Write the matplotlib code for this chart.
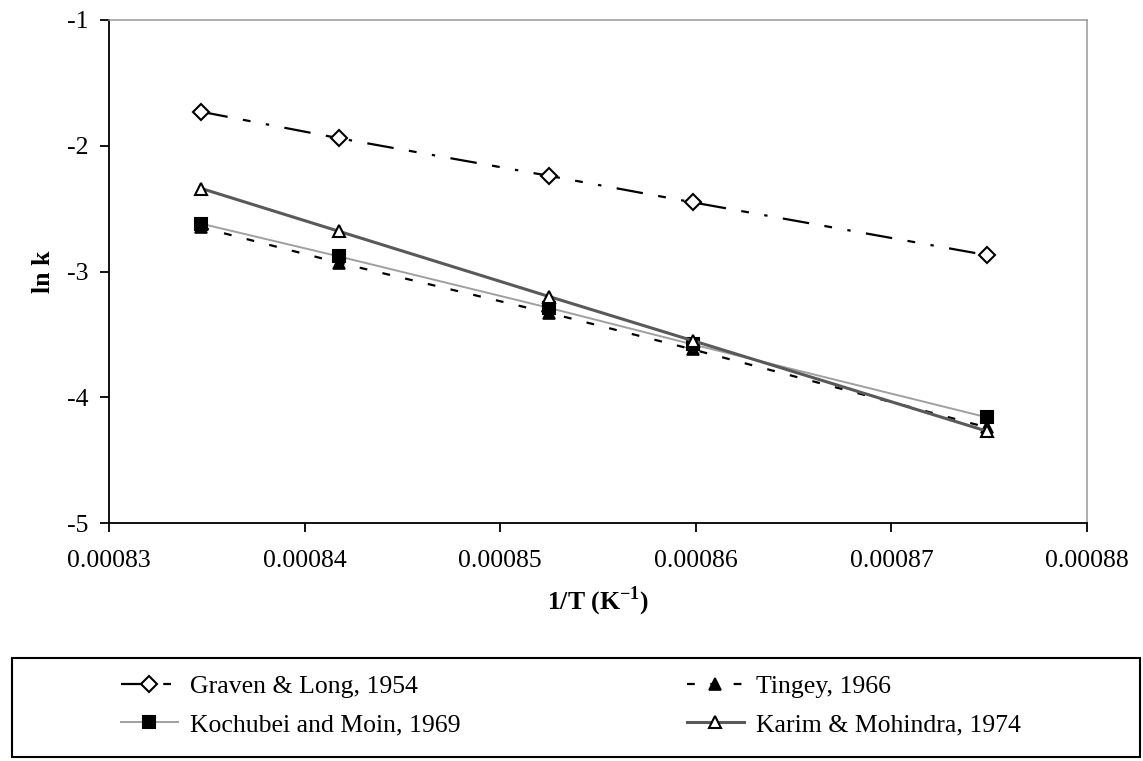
import matplotlib
matplotlib.use("Agg")
import matplotlib.pyplot as plt
from matplotlib.patches import Rectangle

plt.rcParams['font.family'] = ['Liberation Serif', 'DejaVu Serif']
plt.rcParams['axes.unicode_minus'] = False
plt.rcParams['mathtext.fontset'] = 'custom'
plt.rcParams['mathtext.rm'] = 'Liberation Serif'
plt.rcParams['mathtext.bf'] = 'Liberation Serif:bold'

# temperatures (K) -> 1/T on the x axis
temps = [1198, 1188, 1173, 1163, 1143]
inv_t = [1.0 / t for t in temps]

graven = [-1.73, -1.94, -2.24, -2.45, -2.87]
tingey = [-2.65, -2.93, -3.33, -3.62, -4.24]
kochubei = [-2.62, -2.88, -3.29, -3.58, -4.16]
karim = [-2.34, -2.68, -3.20, -3.55, -4.27]

x_ticks = [0.00083, 0.00084, 0.00085, 0.00086, 0.00087, 0.00088]
x_labels = ["0.00083", "0.00084", "0.00085", "0.00086", "0.00087", "0.00088"]
y_ticks = [-5, -4, -3, -2, -1]

fig = plt.figure(figsize=(11.43, 7.61), dpi=100)
ax = fig.add_axes([109 / 1143, 1 - 523 / 761, 978 / 1143, 503 / 761])

fs = 18.5

h1, = ax.plot(inv_t, graven, color='black', lw=1.6, dashes=(12, 7, 3.5, 7, 1.5, 7),
              marker='D', ms=8, mfc='white', mec='black', mew=1.5,
              label="Graven & Long, 1954")
h2, = ax.plot(inv_t, tingey, color='black', lw=1.6, dashes=(3.5, 7),
              marker='^', ms=9, mfc='black', mec='black', mew=1.2,
              label="Tingey, 1966")
h3, = ax.plot(inv_t, kochubei, color='#a0a0a0', lw=1.4,
              marker='s', ms=8, mfc='black', mec='black', mew=1.5,
              label="Kochubei and Moin, 1969")
h4, = ax.plot(inv_t, karim, color='#595959', lw=2.2,
              marker='^', ms=9, mfc='white', mec='black', mew=1.5,
              label="Karim & Mohindra, 1974")

ax.set_xlim(0.00083, 0.00088)
ax.set_ylim(-5, -1)
ax.set_xticks(x_ticks)
ax.set_xticklabels(x_labels)
ax.set_yticks(y_ticks)
ax.tick_params(direction='out', length=6.5, width=1.3, labelsize=fs)
ax.tick_params(axis='x', pad=13)
ax.tick_params(axis='y', pad=8)

for side in ['left', 'bottom']:
    ax.spines[side].set_color('black')
    ax.spines[side].set_linewidth(1.3)
for side in ['top', 'right']:
    ax.spines[side].set_color('#999999')
    ax.spines[side].set_linewidth(1.1)

ax.set_ylabel("ln k", fontsize=fs, fontweight='bold', labelpad=9)
ax.set_xlabel("1/T (K$^{\\mathbf{-1}}$)", fontsize=fs, fontweight='bold', labelpad=9)

# legend box below the plot
fig.patches.append(Rectangle((12 / 1143, 1 - 757 / 761), 1128 / 1143, 99 / 761,
                             transform=fig.transFigure, fill=False,
                             edgecolor='black', lw=1.5))
fig.legend(handles=[h1, h3, h2, h4], loc='upper left', ncol=2, frameon=False,
           bbox_to_anchor=(121 / 1143, 1 - 675 / 761), fontsize=fs,
           handlelength=2.2, handletextpad=0.5, columnspacing=8.8,
           labelspacing=0.6, borderpad=0, borderaxespad=0)

fig.savefig("out.png", dpi=100)
